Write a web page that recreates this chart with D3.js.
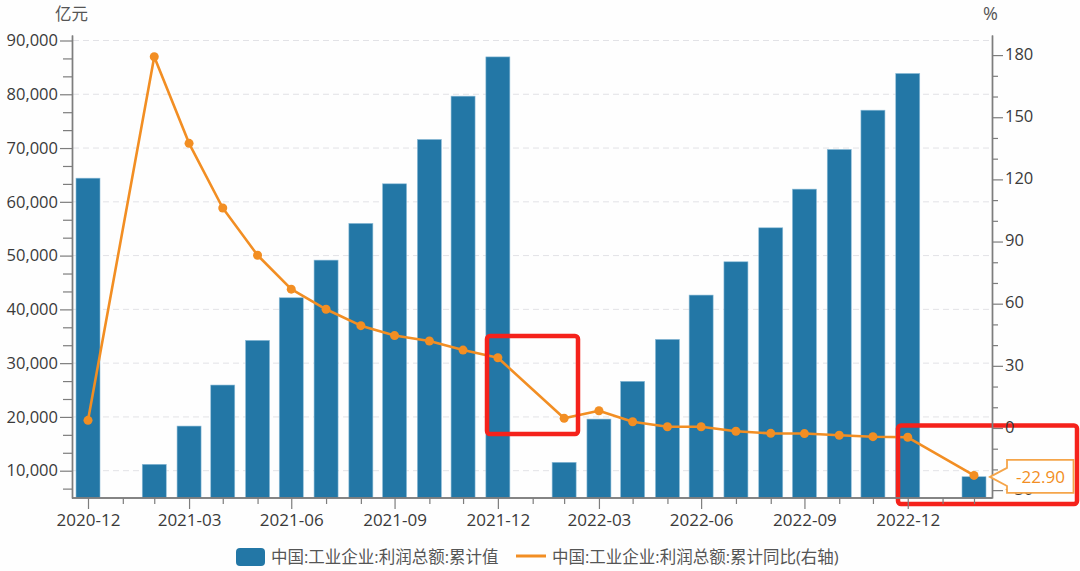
<!DOCTYPE html>
<html lang="zh">
<head>
<meta charset="utf-8">
<script src="https://cdn.jsdelivr.net/npm/d3@7"></script>
<style>
html,body{margin:0;padding:0;background:#fefefe;overflow:hidden}
svg{display:block}
text{font-family:"Open Sans","Noto Sans CJK SC",sans-serif}
</style>
</head>
<body>
<svg id="c" width="1080" height="571"></svg>
<script>
const categories = ["2020-12","2021-01","2021-02","2021-03","2021-04","2021-05","2021-06","2021-07","2021-08","2021-09","2021-10","2021-11","2021-12","2022-01","2022-02","2022-03","2022-04","2022-05","2022-06","2022-07","2022-08","2022-09","2022-10","2022-11","2022-12","2023-01","2023-02"];
const profitValues = [64400,null,11190,18300,25930,34240,42160,49160,55990,63350,71600,79650,86950,null,11560,19600,26620,34420,42660,48850,55170,62360,69740,77040,83870,null,8880];
const yoyValues = [3.7,null,179.2,137.4,106.2,83.4,67,57.3,49.4,44.6,42,37.6,33.9,null,4.7,8.3,3,0.6,0.6,-1.6,-2.6,-2.7,-3.5,-4.2,-4.5,null,-22.9];
const xTickLabels = ["2020-12","2021-03","2021-06","2021-09","2021-12","2022-03","2022-06","2022-09","2022-12"];
const leftTicks = [10000,20000,30000,40000,50000,60000,70000,80000,90000];
const rightTicks = [-30,0,30,60,90,120,150,180];
const seriesNames = ["中国:工业企业:利润总额:累计值","中国:工业企业:利润总额:累计同比(右轴)"];
const lastLabel = "-22.90";

const BLUE="#2377a6", ORANGE="#f28e23", RED="#f5221b", AXIS="#7d7d7d", TEXT="#3a3a3a";
const svg=d3.select("#c");
const left=72,right=992,top_=35,bottom=498;

// month-end dates on a true time axis (February sits closer to January)
const monthEnd=c=>d3.timeDay.offset(d3.timeMonth.offset(d3.timeParse("%Y-%m")(c),1),-1);
const dates=categories.map(monthEnd);
const x=d3.scaleTime().domain([dates[0],dates[dates.length-1]]).range([88,974]);
const yL=d3.scaleLinear().domain([4923,91023]).range([bottom,top_]);
const yR=d3.scaleLinear().domain([-33.8,189.7]).range([bottom,top_]);

// grid
svg.append("g").selectAll("line").data(leftTicks).join("line")
  .attr("x1",left+1).attr("x2",right)
  .attr("y1",d=>yL(d)).attr("y2",d=>yL(d))
  .attr("stroke","#e2e2e6").attr("stroke-width",1).attr("stroke-dasharray","6,4");

// bars
const barW=24;
svg.append("g").selectAll("rect")
  .data(dates.map((d,i)=>({d,v:profitValues[i]})).filter(d=>d.v!==null))
  .join("rect")
  .attr("x",d=>x(d.d)-barW/2).attr("width",barW)
  .attr("y",d=>yL(d.v)).attr("height",d=>bottom-yL(d.v))
  .attr("fill",BLUE).attr("stroke","#8dbcd8").attr("stroke-width",0.6);

// line
const pts=dates.map((d,i)=>({d,v:yoyValues[i]})).filter(d=>d.v!==null);
svg.append("path").datum(pts)
  .attr("fill","none").attr("stroke",ORANGE).attr("stroke-width",2.6).attr("stroke-linejoin","round")
  .attr("d",d3.line().x(d=>x(d.d)).y(d=>yR(d.v)));
svg.append("g").selectAll("circle").data(pts).join("circle")
  .attr("cx",d=>x(d.d)).attr("cy",d=>yR(d.v)).attr("r",4.5).attr("fill",ORANGE);

// red annotation boxes
[[487,336,91,98],[898,425.5,179,78.5]].forEach(r=>{
  svg.append("rect").attr("x",r[0]).attr("y",r[1]).attr("width",r[2]).attr("height",r[3])
    .attr("rx",3).attr("fill","none").attr("stroke",RED).attr("stroke-width",4.5);
});

function styleAxis(g){
  g.selectAll("path.domain").attr("stroke",AXIS).attr("stroke-width",1.4);
  g.selectAll(".tick line").attr("stroke",AXIS).attr("stroke-width",1.2);
  g.selectAll("text").attr("fill",TEXT).attr("font-size",16.5).attr("font-family",'"Open Sans","Noto Sans CJK SC",sans-serif');
}

// left axis
const leftMinor=d3.range(-1,25).filter(i=>i%3!==0).map(i=>10000+i*10000/3);
svg.append("g").attr("transform",`translate(${left},0)`)
  .call(d3.axisLeft(yL).tickValues(leftMinor).tickSize(9).tickFormat("").tickSizeOuter(0)).call(styleAxis);
svg.append("g").attr("transform",`translate(${left},0)`)
  .call(d3.axisLeft(yL).tickValues(leftTicks).tickSize(12).tickPadding(2).tickSizeOuter(0).tickFormat(d3.format(",")))
  .call(styleAxis);

// right axis
const rightMinor=d3.range(-30,181,10).filter(v=>!rightTicks.includes(v));
svg.append("g").attr("transform",`translate(${right},0)`)
  .call(d3.axisRight(yR).tickValues(rightMinor).tickSize(6).tickFormat("").tickSizeOuter(0)).call(styleAxis);
svg.append("g").attr("transform",`translate(${right},0)`)
  .call(d3.axisRight(yR).tickValues(rightTicks).tickSize(11).tickPadding(2).tickSizeOuter(0))
  .call(styleAxis)
  .call(g=>g.selectAll("text").attr("transform","translate(0,-1)"));

// x axis
const fmt=d3.timeFormat("%Y-%m");
const xLabelled=new Set(xTickLabels);
svg.append("g").attr("transform",`translate(0,${bottom})`)
  .call(d3.axisBottom(x).tickValues(dates.filter(d=>!xLabelled.has(fmt(d)))).tickSize(6).tickFormat("").tickSizeOuter(0)).call(styleAxis)
  .call(g=>g.select("path.domain").attr("d",`M${left},0H${right}`));
svg.append("g").attr("transform",`translate(0,${bottom})`)
  .call(d3.axisBottom(x).tickValues(dates.filter(d=>xLabelled.has(fmt(d)))).tickFormat(fmt).tickSize(11).tickPadding(5).tickSizeOuter(0)).call(styleAxis)
  .call(g=>g.select("path.domain").attr("d",`M${left},0H${right}`))
  .call(g=>g.selectAll("text").attr("font-size",17));

// axis names
svg.append("text").attr("x",71.5).attr("y",20).attr("text-anchor","middle").attr("font-size",16.5).attr("fill","#555").text("亿元");
svg.append("text").attr("x",990.5).attr("y",20).attr("text-anchor","middle").attr("font-size",18).attr("fill","#555").text("%");

// end-label tag
const lastD=dates[dates.length-1], lastV=yoyValues[yoyValues.length-1];
const ty=yR(lastV)+1.5;
svg.append("path")
  .attr("d",`M${x(lastD)+16},${ty}L1007,${ty-9}L1007,${ty-17}L1073.5,${ty-17}L1073.5,${ty+16}L1007,${ty+16}L1007,${ty+9}Z`)
  .attr("fill","#fff").attr("stroke","#f5a54a").attr("stroke-width",1.8);
svg.append("text").attr("x",1040.5).attr("y",ty+6).attr("text-anchor","middle").attr("font-size",17).attr("fill",ORANGE).text(lastLabel);

// legend
svg.append("rect").attr("x",236).attr("y",548).attr("width",29).attr("height",18).attr("rx",4).attr("fill",BLUE);
svg.append("text").attr("x",271).attr("y",563).attr("font-size",16.5).attr("fill","#555").text(seriesNames[0]);
svg.append("line").attr("x1",516).attr("x2",546).attr("y1",556).attr("y2",556).attr("stroke",ORANGE).attr("stroke-width",3);
svg.append("text").attr("x",552).attr("y",563).attr("font-size",16.5).attr("fill","#555").text(seriesNames[1]);
</script>
</body>
</html>
